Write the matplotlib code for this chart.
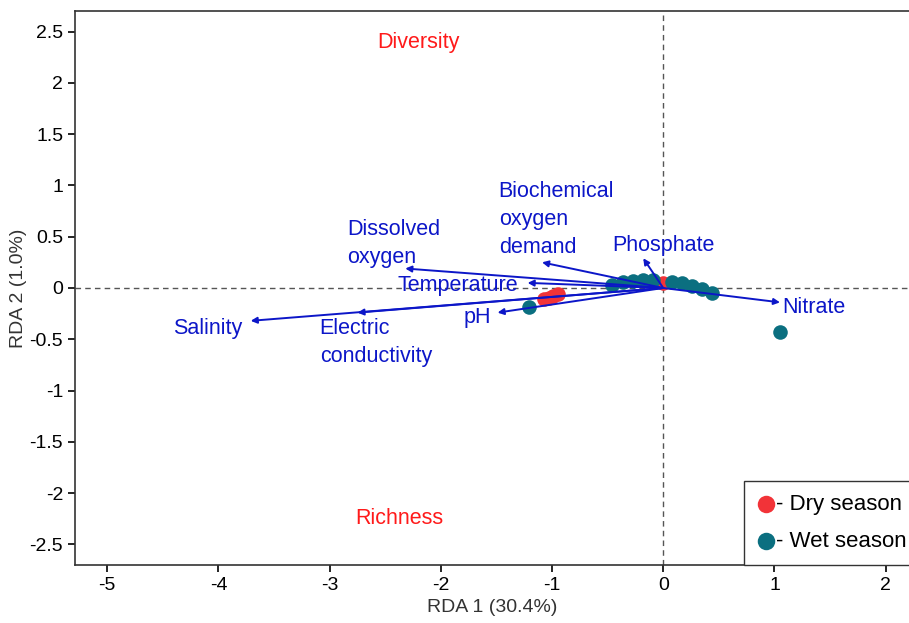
import numpy as np
import matplotlib
matplotlib.use("Agg")
import matplotlib.pyplot as plt

plt.rcParams['font.family'] = ['Liberation Sans', 'DejaVu Sans']
plt.rcParams['axes.unicode_minus'] = False

## Data

dry_x = [-1.07, -1.03, -0.99, -0.95, 0.0]
dry_y = [-0.11, -0.10, -0.08, -0.06, 0.05]

wet_x = [-1.21, 1.05, -0.46, -0.36, -0.27, -0.18, -0.09, 0.08, 0.17, 0.26, 0.35, 0.44]
wet_y = [-0.19, -0.43, 0.03, 0.06, 0.07, 0.08, 0.08, 0.06, 0.05, 0.02, -0.01, -0.05]

# environmental vectors (arrow tips) and their labels
env_names = ["Salinity", "Electric\nconductivity", "Dissolved\noxygen", "Temperature",
             "pH", "Biochemical\noxygen\ndemand", "Phosphate", "Nitrate"]
env_x = [-3.71, -2.75, -2.32, -1.22, -1.49, -1.09, -0.18, 1.05]
env_y = [-0.32, -0.24, 0.19, 0.05, -0.24, 0.25, 0.29, -0.14]
# label anchor positions
lab_x = [-4.10, -3.09, -2.84, -2.39, -1.67, -1.48, 0.0, 1.07]
lab_y = [-0.39, -0.53, 0.43, 0.02, -0.29, 0.67, 0.41, -0.19]
lab_ha = ["center", "left", "left", "left", "center", "left", "center", "left"]

xticks = [-5, -4, -3, -2, -1, 0, 1, 2]
yticks = [-2.5, -2, -1.5, -1, -0.5, 0, 0.5, 1, 1.5, 2, 2.5]

red = "#f23338"
teal = "#0b6f80"
blue = "#0c16c8"

## Plot

fig = plt.figure(figsize=(9.09, 6.23), dpi=100)
ax = fig.add_axes([75/909, 58/623, 834/909, 554/623])

ax.axhline(0, color="#555555", ls=(0, (4, 3)), lw=1, zorder=1)
ax.axvline(0, color="#555555", ls=(0, (4, 3)), lw=1, zorder=1)

ax.scatter(dry_x, dry_y, s=110, color=red, zorder=2, label="- Dry season", linewidths=0)
ax.scatter(wet_x, wet_y, s=110, color=teal, zorder=3, label="- Wet season", linewidths=0)

for i in range(len(env_names)):
    ax.annotate("", xy=(env_x[i], env_y[i]), xytext=(0, 0),
                arrowprops=dict(arrowstyle="-|>", color=blue, lw=1.4,
                                mutation_scale=9, shrinkA=0, shrinkB=0), zorder=4)
    ax.text(lab_x[i], lab_y[i], env_names[i], color=blue, fontsize=15.5,
            ha=lab_ha[i], va="center", linespacing=1.45, zorder=5)

ax.text(-2.2, 2.39, "Diversity", color="#ff1a1a", fontsize=15.5, ha="center", va="center")
ax.text(-2.37, -2.25, "Richness", color="#ff1a1a", fontsize=15.5, ha="center", va="center")

ax.set_xlim(-5.29, 2.21)
ax.set_ylim(-2.70, 2.70)
ax.set_xticks(xticks)
ax.set_xticklabels([str(t) for t in xticks])
ax.set_yticks(yticks)
ax.set_yticklabels([("%g" % t) for t in yticks])
ax.tick_params(labelsize=14, length=5, width=1.2, direction="out")
ax.spines['right'].set_visible(False)
for s in ['left', 'bottom', 'top']:
    ax.spines[s].set_linewidth(1.2)
    ax.spines[s].set_color("#333333")

ax.set_xlabel("RDA 1 (30.4%)", fontsize=14, color="#333333")
ax.set_ylabel("RDA 2 (1.0%)", fontsize=14, color="#333333", labelpad=2)

leg = fig.legend(loc="lower left", bbox_to_anchor=(744/909, 58/623), fontsize=16,
                 frameon=True, fancybox=False, edgecolor="#333333", framealpha=1,
                 handletextpad=0.05, handlelength=0.8, borderpad=0.6, labelspacing=0.7,
                 borderaxespad=0, markerscale=1.2)
leg.get_frame().set_linewidth(1.0)

fig.savefig("out.png", dpi=100)
